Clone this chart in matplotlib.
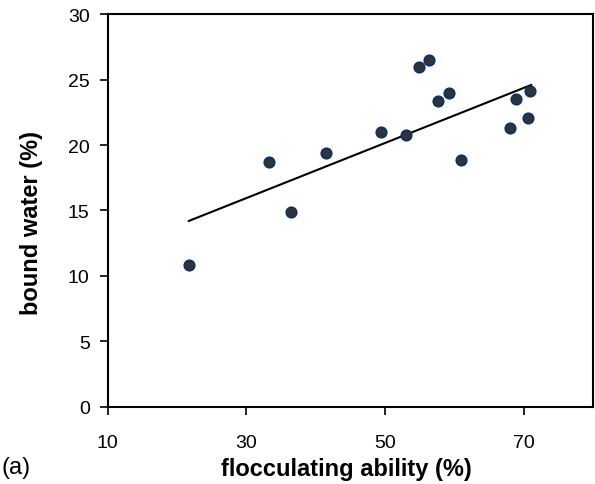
import numpy as np
import matplotlib
matplotlib.use("Agg")
import matplotlib.pyplot as plt

plt.rcParams['font.family'] = ['Liberation Sans', 'DejaVu Sans']

# data
floc_ability = [21.7, 33.2, 36.5, 41.5, 49.4, 53.0, 54.9, 56.4, 57.7, 59.3, 60.9, 68.1, 68.9, 70.6, 70.85]
bound_water = [10.8, 18.7, 14.9, 19.4, 21.0, 20.75, 25.97, 26.5, 23.4, 23.96, 18.84, 21.33, 23.5, 22.07, 24.1]
trend_x = [21.7, 71.1]
trend_y = [14.2, 24.6]
x_ticks = [10, 30, 50, 70]
y_ticks = [0, 5, 10, 15, 20, 25, 30]

fig = plt.figure(figsize=(5.95, 4.85), dpi=100)
ax = fig.add_axes([0.181, 0.1594, 0.9966 - 0.181, 0.9685 - 0.1594])

ax.plot(trend_x, trend_y, color='black', lw=1.5, zorder=2)
ax.scatter(floc_ability, bound_water, s=54, facecolor='#333333', edgecolor='#0d3366',
           linewidths=1.4, zorder=3)

ax.set_xlim(10, 80)
ax.set_ylim(0, 30)
ax.set_xticks(x_ticks)
ax.set_yticks(y_ticks)
ax.tick_params(direction='out', length=6, width=1.2, labelsize=14)
ax.tick_params(axis='x', pad=14)
ax.tick_params(axis='y', pad=7)
for sp in ax.spines.values():
    sp.set_linewidth(1.5)

ax.set_xlabel('flocculating ability (%)', fontsize=17, fontweight='bold')
ax.set_ylabel('bound water (%)', fontsize=17, fontweight='bold')
ax.xaxis.set_label_coords(0.491, -0.128)
ax.yaxis.set_label_coords(-0.133, 0.47)
fig.text(0.003, 0.036, '(a)', fontsize=17, ha='left', va='center')

fig.savefig('out.png', dpi=100)
